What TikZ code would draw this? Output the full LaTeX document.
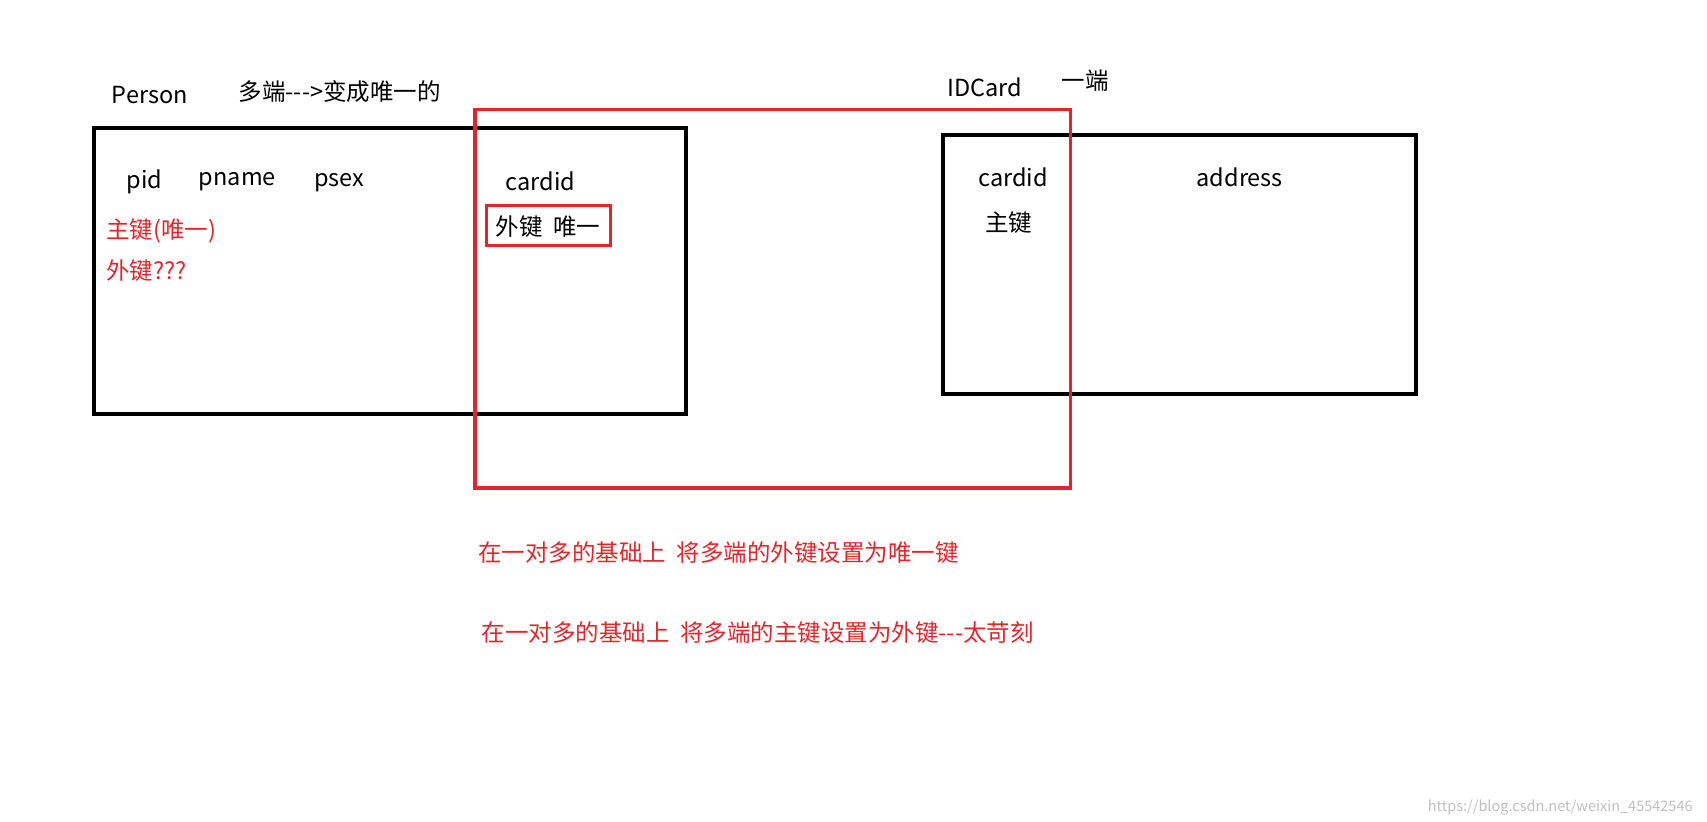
\documentclass[tikz,border=0pt]{standalone}
\usepackage{fontspec}
\setmainfont{Noto Sans CJK SC}
\definecolor{rd}{HTML}{E0262C}
\begin{document}
\begin{tikzpicture}[x=1.0942pt,y=-1.0942pt,
  t/.style={font=\fontsize{23.5}{26}\selectfont,inner sep=0pt},
  r/.style={t,text=rd},
  blk/.style={draw=black,line width=4pt},
  rbx/.style={draw=rd,line width=3.3pt}]
\useasboundingbox (0,0) rectangle (1560,751.2);
\draw[blk] (86,117) rectangle (627,378);
\draw[blk] (862,123) rectangle (1294,360);
\draw[rbx] (434,100) rectangle (978,446);
\node[t] (person) at (137,87) {Person};
\node[t,anchor=west] (many) at (218,84) {多端-{}-{}->变成唯一的};
\node[t] (idcard) at (900,80) {IDCard};
\node[t] (one) at (992,74) {一端};
\node[t] (pid) at (132,166) {pid};
\node[t] (pname) at (217,166) {pname};
\node[t] (psex) at (310,167) {psex};
\node[t] (cid) at (494,166) {cardid};
\node[draw=rd,line width=3.3pt,inner sep=0pt,minimum width=124pt,minimum height=40pt] (fk) at (501,206) {};
\node[t] (fkt) at (501,207) {外键\ \ 唯一};
\node[r,anchor=west] (pk1) at (97,211) {主键(唯一)};
\node[r,anchor=west] (fk1) at (97,247) {外键???};
\node[t] (cid2) at (926,162) {cardid};
\node[t] (addr) at (1133,162) {address};
\node[t] (pk2) at (922,203) {主键};
\node[r,anchor=west] (l1) at (437,505) {在一对多的基础上\ \ 将多端的外键设置为唯一键};
\node[r,anchor=west] (l2) at (440,578) {在一对多的基础上\ \ 将多端的主键设置为外键-{}-{}-太苛刻};
\node[font=\fontsize{14.5}{16}\selectfont,text=black!25,anchor=east,inner sep=0pt] (wm) at (1547,738) {https://blog.csdn.net/weixin\_45542546};
\end{tikzpicture}
\end{document}
